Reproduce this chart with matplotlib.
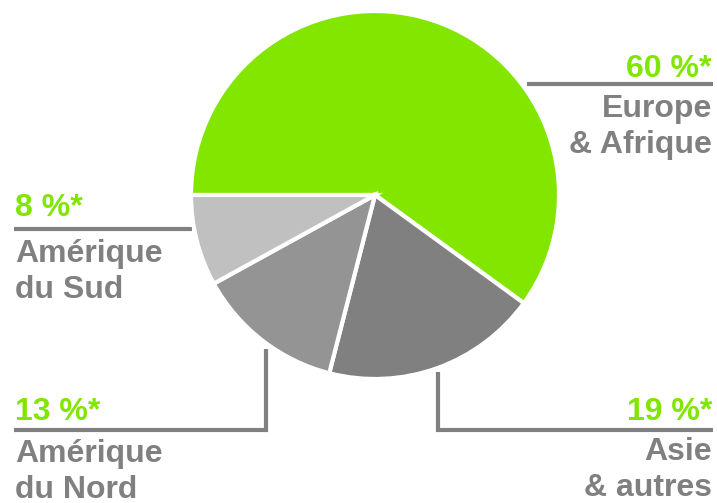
import matplotlib
matplotlib.use("Agg")
import matplotlib.pyplot as plt

regions = ["Europe\n& Afrique", "Asie\n& autres", "Amérique\ndu Nord", "Amérique\ndu Sud"]
shares = [60, 19, 13, 8]
pct_labels = ["60 %*", "19 %*", "13 %*", "8 %*"]
colors = ["#82E600", "#808080", "#949494", "#C0C0C0"]

W, H = 717, 503
fig = plt.figure(figsize=(W / 100, H / 100), dpi=100)
ax = fig.add_axes([0, 0, 1, 1])

def Y(py):
    return H - py

ax.pie(shares, colors=colors, startangle=180, counterclock=False,
       center=(375, Y(195)), radius=184,
       wedgeprops=dict(edgecolor="white", linewidth=3.0))

ax.set_xlim(0, W)
ax.set_ylim(0, H)
ax.set_aspect("equal")
ax.axis("off")

green = "#80E600"
grey = "#808080"
fs = 23
fam = ["Liberation Sans", "DejaVu Sans"]
lw = 3.0

def line(xs, ys):
    ax.plot(xs, [Y(v) for v in ys], color=grey, lw=lw,
            solid_capstyle="butt", solid_joinstyle="miter", zorder=0)

def txt(x, py, s, ha, color):
    ax.text(x, Y(py), s, ha=ha, va="baseline", color=color,
            fontsize=fs, fontweight="bold", family=fam)

# Europe & Afrique
line([527, 713], [84, 84])
txt(712, 77, pct_labels[0], "right", green)
txt(712, 117, regions[0].split("\n")[0], "right", grey)
txt(712, 153, regions[0].split("\n")[1], "right", grey)

# Asie & autres
line([438, 438, 713], [372, 430, 430])
txt(712, 420, pct_labels[1], "right", green)
txt(712, 460, regions[1].split("\n")[0], "right", grey)
txt(712, 496, regions[1].split("\n")[1], "right", grey)

# Amérique du Nord
line([14, 266, 266], [430, 430, 349])
txt(15, 420, pct_labels[2], "left", green)
txt(15, 462, regions[2].split("\n")[0], "left", grey)
txt(15, 498, regions[2].split("\n")[1], "left", grey)

# Amérique du Sud
line([14, 192], [229, 229])
txt(15, 216, pct_labels[3], "left", green)
txt(15, 262, regions[3].split("\n")[0], "left", grey)
txt(15, 298, regions[3].split("\n")[1], "left", grey)

fig.savefig("out.png", dpi=100, facecolor="white")
